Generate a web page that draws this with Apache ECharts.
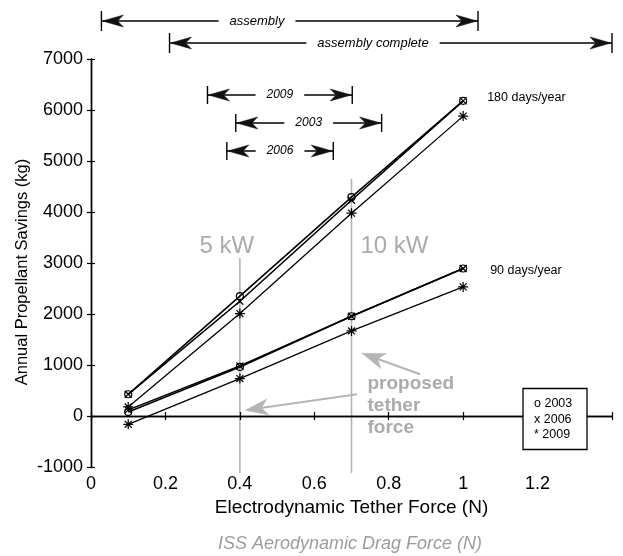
<!DOCTYPE html>
<html>
<head>
<meta charset="utf-8">
<script src="https://cdn.jsdelivr.net/npm/echarts@6/dist/echarts.min.js"></script>
<style>
  html, body { margin: 0; padding: 0; background: #fff; }
  #chart { width: 623px; height: 556px; }
</style>
</head>
<body>
<div id="chart"></div>
<script>
// Tether force levels (N) at which the savings were computed
const forces = [0.1, 0.4, 0.7, 1.0];
const years = ['2003', '2006', '2009'];
const yearMarks = ['o', 'x', '*'];

// Annual propellant savings (kg), tether operated 180 days/year
const days180_2003 = [426, 2349, 4290, 6180];
const days180_2006 = [426, 2250, 4230, 6180];
const days180_2009 = [177, 2009, 3977, 5880];
// Annual propellant savings (kg), tether operated 90 days/year
const days90_2003 = [79, 962, 1956, 2892];
const days90_2006 = [120, 980, 1956, 2892];
const days90_2009 = [-163, 734, 1668, 2531];

const xTickValues = [0, 0.2, 0.4, 0.6, 0.8, 1, 1.2];
const yTickValues = [-1000, 0, 1000, 2000, 3000, 4000, 5000, 6000, 7000];

// Tether power levels and the force each one gives
const powerLabels = ['5 kW', '10 kW'];
const powerForces = [0.4, 0.7];

// ISS aerodynamic drag force ranges (N)
const dragLabels = ['assembly', 'assembly complete'];
const dragFrom = [0.028, 0.211];
const dragTo = [1.04, 1.4];
// Drag force range per solar-activity year (N)
const yearRangeLabels = ['2009', '2003', '2006'];
const yearRangeFrom = [0.313, 0.389, 0.365];
const yearRangeTo = [0.702, 0.781, 0.651];

const FONT = '"Liberation Sans", Arial, Helvetica, sans-serif';
const GREY_LINE = '#b4b4b4';
const GREY_TEXT = '#ababab';

const symbolPaths = {
  o: 'circle',
  x: 'path://M0,0L8,8M8,0L0,8',
  '*': 'path://M4,-0.6L4,8.6M-0.6,4L8.6,4M0.8,0.8L7.2,7.2M7.2,0.8L0.8,7.2'
};
const symbolSizes = { o: 7, x: 7, '*': 10 };

function makeSeries(name, values, mark, width) {
  return {
    name: name,
    type: 'line',
    data: forces.map((f, i) => [f, values[i]]),
    symbol: symbolPaths[mark],
    symbolSize: symbolSizes[mark],
    showAllSymbol: true,
    lineStyle: { color: '#000', width: width },
    itemStyle: { color: 'rgba(0,0,0,0)', borderColor: '#000', borderWidth: 1.2 },
    emphasis: { disabled: true },
    animation: false,
    z: 3
  };
}

const groups180 = [days180_2003, days180_2006, days180_2009];
const groups90 = [days90_2003, days90_2006, days90_2009];
const series = [];
years.forEach((y, i) => {
  series.push(makeSeries('180 days/year ' + y, groups180[i], yearMarks[i], i < 2 ? 1.6 : 1.3));
  series.push(makeSeries('90 days/year ' + y, groups90[i], yearMarks[i], i < 2 ? 1.6 : 1.3));
});

const axisLine = { show: true, lineStyle: { color: '#000', width: 1.4 } };
const axisTick = { show: true, inside: true, length: 4, lineStyle: { color: '#000', width: 1.2 } };

const chart = echarts.init(document.getElementById('chart'), null, { renderer: 'canvas' });
chart.setOption({
  backgroundColor: '#fff',
  animation: false,
  grid: { left: 91, right: 11, top: 59, bottom: 89, containLabel: false },
  xAxis: [
    {
      type: 'value', min: 0, max: 1.4, interval: 0.2, position: 'bottom',
      axisLine: axisLine, axisTick: axisTick, splitLine: { show: false },
      axisLabel: {
        color: '#000', fontSize: 18, fontFamily: FONT, margin: 8,
        formatter: v => {
          const r = Math.round(v * 10) / 10;
          return xTickValues.indexOf(r) >= 0 ? String(r) : '';
        }
      },
      name: 'Electrodynamic Tether Force (N)', nameLocation: 'middle', nameGap: 25,
      nameTextStyle: { color: '#000', fontSize: 19, fontFamily: FONT }
    },
    {
      type: 'value', min: 0, max: 1.4, interval: 0.2, position: 'top',
      axisLine: axisLine, axisTick: axisTick, axisLabel: { show: false }, splitLine: { show: false }
    }
  ],
  yAxis: [
    {
      type: 'value', min: -1000, max: 7000, interval: 1000, position: 'left',
      axisLine: axisLine, axisTick: axisTick, splitLine: { show: false },
      axisLabel: {
        color: '#000', fontSize: 18, fontFamily: FONT, margin: 8,
        formatter: v => (yTickValues.indexOf(v) >= 0 ? String(v) : '')
      }
    },
    {
      type: 'value', min: -1000, max: 7000, interval: 1000, position: 'right',
      axisLine: axisLine, axisTick: axisTick, axisLabel: { show: false }, splitLine: { show: false }
    }
  ],
  series: series
});

// ---- annotations placed through the chart's own scales ----
const px = (x, y) => chart.convertToPixel({ xAxisIndex: 0, yAxisIndex: 0 }, [x, y]);
const gx = x => px(x, 0)[0];
const gy = y => px(0, y)[1];
const g = [];

function arrowHead(tx, ty, dx, dy, len, half, color) {
  const nx = -dy, ny = dx;
  const bx = tx - dx * len, by = ty - dy * len;
  return {
    type: 'polygon',
    shape: { points: [
      [tx, ty],
      [bx + nx * half, by + ny * half],
      [tx - dx * len * 0.72, ty - dy * len * 0.72],
      [bx - nx * half, by - ny * half]
    ] },
    style: { fill: color, stroke: color, lineWidth: 0.5 },
    silent: true
  };
}

function rangeArrow(x1, x2, y, label, fontSize, barHalf) {
  g.push({ type: 'line', shape: { x1: x1, y1: y, x2: x2, y2: y }, style: { stroke: '#000', lineWidth: 1.4 }, silent: true });
  g.push({ type: 'line', shape: { x1: x1, y1: y - barHalf, x2: x1, y2: y + barHalf }, style: { stroke: '#000', lineWidth: 1.4 }, silent: true });
  g.push({ type: 'line', shape: { x1: x2, y1: y - barHalf, x2: x2, y2: y + barHalf }, style: { stroke: '#000', lineWidth: 1.4 }, silent: true });
  g.push(arrowHead(x1 + 1, y, -1, 0, 21, 6, '#111'));
  g.push(arrowHead(x2 - 1, y, 1, 0, 21, 6, '#111'));
  return {
    type: 'text',
    style: {
      text: label, font: 'italic ' + fontSize + 'px ' + FONT, fill: '#000',
      align: 'center', verticalAlign: 'middle',
      backgroundColor: '#fff', padding: [0, 11]
    },
    silent: true
  };
}

// Drag force ranges above the plot
const dragRows = [21, 43];
const dragTextX = [257, 373];
dragLabels.forEach((lab, i) => {
  const t = rangeArrow(gx(dragFrom[i]), gx(dragTo[i]), dragRows[i], lab, 13, 10);
  t.x = dragTextX[i]; t.y = dragRows[i];
  g.push(t);
});

// Year ranges inside the plot
const yearRows = [95, 123, 151];
yearRangeLabels.forEach((lab, i) => {
  const x1 = gx(yearRangeFrom[i]), x2 = gx(yearRangeTo[i]);
  const t = rangeArrow(x1, x2, yearRows[i], lab, 12, 9);
  t.x = (x1 + x2) / 2; t.y = yearRows[i];
  g.push(t);
});

// Power level lines
const lineTops = [3100, 4650];
powerForces.forEach((f, i) => {
  const x = gx(f);
  g.push({ type: 'line', shape: { x1: x, y1: gy(lineTops[i]), x2: x, y2: gy(-1000) + 6 }, style: { stroke: GREY_LINE, lineWidth: 1.6 }, silent: true, z: -1 });
});
g.push({ type: 'text', x: gx(0.4) - 13, y: gy(3330), style: { text: powerLabels[0], font: '24px ' + FONT, fill: GREY_TEXT, align: 'center', verticalAlign: 'middle' }, silent: true });
g.push({ type: 'text', x: gx(0.7) + 9, y: gy(3330), style: { text: powerLabels[1], font: '24px ' + FONT, fill: GREY_TEXT, align: 'left', verticalAlign: 'middle' }, silent: true });

// "proposed tether force" note with its two arrows
const noteX = gx(0.743);
['proposed', 'tether', 'force'].forEach((w, i) => {
  g.push({ type: 'text', x: noteX, y: gy(640) + i * 22, style: { text: w, font: 'bold 19px ' + FONT, fill: GREY_TEXT, align: 'left', verticalAlign: 'middle' }, silent: true });
});
function greyArrow(fx, fy, tx, ty) {
  const a = px(fx, fy), b = px(tx, ty);
  const dx = b[0] - a[0], dy = b[1] - a[1];
  const d = Math.hypot(dx, dy);
  const ux = dx / d, uy = dy / d;
  g.push({ type: 'line', shape: { x1: a[0], y1: a[1], x2: b[0] - ux * 14, y2: b[1] - uy * 14 }, style: { stroke: GREY_LINE, lineWidth: 2 }, silent: true });
  g.push(arrowHead(b[0], b[1], ux, uy, 23, 8, GREY_LINE));
}
greyArrow(0.884, 818, 0.728, 1230);
greyArrow(0.715, 426, 0.414, 112);

// Line group labels
g.push({ type: 'text', x: gx(1.0) + 24, y: gy(days180_2003[3]) - 3, style: { text: '180 days/year', font: '12.5px ' + FONT, fill: '#000', align: 'left', verticalAlign: 'middle' }, silent: true });
g.push({ type: 'text', x: gx(1.0) + 27, y: gy(days90_2003[3]) + 2, style: { text: '90 days/year', font: '12.5px ' + FONT, fill: '#000', align: 'left', verticalAlign: 'middle' }, silent: true });

// Marker key
g.push({ type: 'rect', shape: { x: 523, y: 388.5, width: 64, height: 61 }, style: { fill: '#fff', stroke: '#000', lineWidth: 1.3 }, silent: true, z: 5 });
years.forEach((y, i) => {
  g.push({ type: 'text', x: 534, y: 404 + i * 15.3, style: { text: yearMarks[i] + ' ' + y, font: '12.5px ' + FONT, fill: '#000', align: 'left', verticalAlign: 'middle' }, silent: true, z: 6 });
});

// Axis titles
g.push({ type: 'text', x: 22, y: 272, rotation: Math.PI / 2, style: { text: 'Annual Propellant Savings (kg)', font: '16.5px ' + FONT, fill: '#000', align: 'center', verticalAlign: 'middle' }, silent: true });
g.push({ type: 'text', x: 350, y: 544, style: { text: 'ISS Aerodynamic Drag Force (N)', font: 'italic 18px ' + FONT, fill: '#9c9c9c', align: 'center', verticalAlign: 'middle' }, silent: true });

chart.setOption({ graphic: { elements: g } });
</script>
</body>
</html>
